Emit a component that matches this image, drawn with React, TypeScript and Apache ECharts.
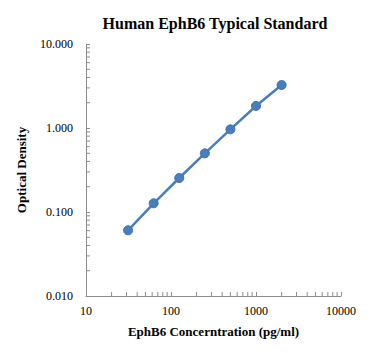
import React, { useEffect, useRef } from "react";
import * as echarts from "echarts";

const concentrations = [31.25, 62.5, 125, 250, 500, 1000, 2000];
const odValues = [0.0605, 0.127, 0.254, 0.499, 0.964, 1.83, 3.25];
const xMinorTicks = [20, 30, 40, 50, 60, 70, 80, 90, 200, 300, 400, 500, 600, 700, 800, 900, 2000, 3000, 4000, 5000, 6000, 7000, 8000, 9000];
const yMinorTicks = [0.02, 0.03, 0.04, 0.05, 0.06, 0.07, 0.08, 0.09, 0.2, 0.3, 0.4, 0.5, 0.6, 0.7, 0.8, 0.9, 2, 3, 4, 5, 6, 7, 8, 9];

const FONT = "'Liberation Serif', serif";
const AXIS_COLOR = "#8c8c8c";

export default function App() {
  const ref = useRef<HTMLDivElement>(null);
  useEffect(() => {
    document.body.style.margin = "0";
    if (!ref.current) return;
    const chart = echarts.init(ref.current, null, { renderer: "svg" });
    chart.setOption({
      animation: false,
      backgroundColor: "#ffffff",
      title: {
        text: "Human EphB6 Typical Standard",
        left: 210,
        textAlign: "center",
        top: 10,
        textStyle: { fontFamily: FONT, fontSize: 16, fontWeight: "bold", color: "#000" },
      },
      grid: { left: 86, right: 32, top: 44, bottom: 57 },
      xAxis: {
        type: "log",
        logBase: 10,
        min: 10,
        max: 10000,
        name: "EphB6 Concerntration (pg/ml)",
        nameLocation: "middle",
        nameGap: 29,
        nameTextStyle: { fontFamily: FONT, fontSize: 13, fontWeight: "bold", color: "#000" },
        axisLine: { lineStyle: { color: AXIS_COLOR, width: 1 } },
        axisTick: { show: true, inside: true, length: 4, lineStyle: { color: AXIS_COLOR } },
        axisLabel: {
          fontFamily: FONT,
          fontSize: 12,
          color: "#000",
          margin: 9,
          formatter: (v: number) => String(Math.round(v)),
        },
        splitLine: { show: false },
      },
      yAxis: {
        type: "log",
        logBase: 10,
        min: 0.01,
        max: 10,
        name: "Optical Density",
        nameLocation: "middle",
        nameGap: 58,
        nameTextStyle: { fontFamily: FONT, fontSize: 13, fontWeight: "bold", color: "#000" },
        axisLine: { show: true, lineStyle: { color: AXIS_COLOR, width: 1 } },
        axisTick: { show: true, inside: true, length: 4, lineStyle: { color: AXIS_COLOR } },
        axisLabel: {
          fontFamily: FONT,
          fontSize: 12,
          color: "#000",
          margin: 13,
          formatter: (v: number) => v.toFixed(3),
        },
        splitLine: { show: false },
      },
      series: [
        {
          type: "custom",
          silent: true,
          clip: false,
          z: 1,
          data: xMinorTicks.map((v) => [v, 0.01]),
          renderItem: (params: any, api: any) => {
            const p = api.coord([api.value(0), api.value(1)]);
            return {
              type: "line",
              shape: { x1: p[0], y1: p[1], x2: p[0], y2: p[1] - 4 },
              style: { stroke: AXIS_COLOR, lineWidth: 1 },
            };
          },
        },
        {
          type: "custom",
          silent: true,
          clip: false,
          z: 1,
          data: yMinorTicks.map((v) => [10, v]),
          renderItem: (params: any, api: any) => {
            const p = api.coord([api.value(0), api.value(1)]);
            return {
              type: "line",
              shape: { x1: p[0], y1: p[1], x2: p[0] + 4, y2: p[1] },
              style: { stroke: AXIS_COLOR, lineWidth: 1 },
            };
          },
        },
        {
          type: "line",
          z: 3,
          data: concentrations.map((c, i) => [c, odValues[i]]),
          symbol: "circle",
          symbolSize: 9,
          lineStyle: { color: "#4a7ebb", width: 2.5 },
          itemStyle: { color: "#4a7ebb", borderColor: "#3d6fad", borderWidth: 1 },
        },
      ],
    });
    return () => chart.dispose();
  }, []);
  return <div ref={ref} style={{ width: 373, height: 353 }} />;
}
